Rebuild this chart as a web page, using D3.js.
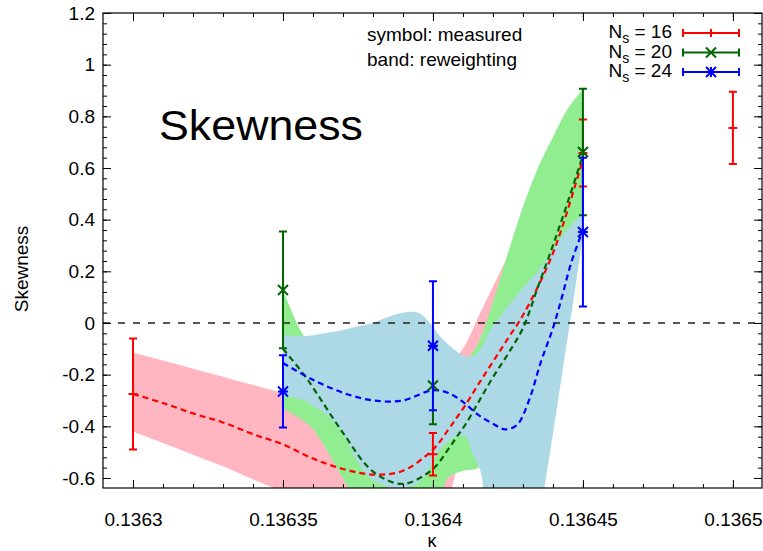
<!DOCTYPE html>
<html>
<head>
<meta charset="utf-8">
<script src="https://cdn.jsdelivr.net/npm/d3@7"></script>
<style>
body { margin: 0; background: #fff; }
text { font-family: "Liberation Sans", Arial, sans-serif; fill: #000; }
</style>
</head>
<body>
<div id="chart"></div>
<script>
// reweighting curves (kappa grid, band edges, central line) per lattice size
const kappaRed = [0.1363, 0.13631, 0.13632, 0.13633, 0.13634, 0.13635, 0.13636, 0.13637, 0.13638, 0.13639,
	0.1364, 0.136405, 0.136408, 0.136411, 0.136415, 0.13642, 0.136425, 0.13643, 0.13644, 0.13645];
const redUpper = [-0.115, -0.145, -0.177, -0.208, -0.24, -0.27, -0.29, -0.3, -0.3, -0.28,
	-0.22, -0.17, -0.13, -0.08, 0.02, 0.14, 0.26, 0.38, 0.6, 0.79];
const redLower = [-0.42, -0.465, -0.51, -0.555, -0.605, -0.653, -0.7, -0.74, -0.77, -0.78,
	-0.76, -0.68, -0.56, -0.45, -0.35, -0.22, -0.08, 0.05, 0.3, 0.53];
const redLine = [-0.275, -0.31, -0.35, -0.385, -0.43, -0.47, -0.525, -0.565, -0.587, -0.572,
	-0.49, -0.415, -0.365, -0.315, -0.24, -0.15, -0.06, 0.03, 0.27, 0.635];

const kappaGreen = [0.13635, 0.136357, 0.13636, 0.13637, 0.13638, 0.13639, 0.1364, 0.136405, 0.136408,
	0.136411, 0.136415, 0.13642, 0.136425, 0.13643, 0.136435, 0.13644, 0.136445, 0.13645];
const greenUpper = [0.128, -0.05, -0.08, -0.11, -0.12, -0.13, -0.13, -0.135, -0.14,
	-0.14, -0.08, 0.08, 0.27, 0.45, 0.6, 0.72, 0.83, 0.905];
const greenLower = [-0.33, -0.38, -0.41, -0.6, -0.8, -0.85, -0.75, -0.6, -0.58,
	-0.57, -0.56, -0.45, -0.3, -0.15, -0.02, 0.05, 0.2, 0.4];
const greenLine = [-0.1, -0.2, -0.25, -0.425, -0.575, -0.623, -0.565, -0.49, -0.44,
	-0.39, -0.31, -0.21, -0.12, -0.02, 0.14, 0.3, 0.47, 0.65];

const kappaBlueBand = [0.13635, 0.136357, 0.13636, 0.136364, 0.13637, 0.136374, 0.136379, 0.136384, 0.136388,
	0.136395, 0.136399, 0.136403, 0.136408, 0.136411, 0.136413, 0.136416, 0.136418, 0.136422,
	0.13643, 0.136435, 0.136437, 0.13644, 0.136443, 0.136447, 0.13645];
const blueUpper = [-0.047, -0.05, -0.047, -0.04, -0.027, -0.016, -0.003, 0.018, 0.035,
	0.04, 0.0, -0.06, -0.11, -0.13, -0.132, -0.1, -0.05, 0.02,
	0.135, 0.2, 0.23, 0.284, 0.335, 0.39, 0.43];
const blueLower = [-0.28, -0.3, -0.32, -0.35, -0.43, -0.52, -0.6, -0.63, -0.64,
	-0.62, -0.56, -0.48, -0.44, -0.44, -0.5, -0.58, -0.8, -0.95,
	-0.95, -0.8, -0.65, -0.43, -0.2, 0.1, 0.34];
const kappaBlueLine = [0.13635, 0.13636, 0.13637, 0.13638, 0.13639, 0.1364, 0.136405, 0.13641, 0.136415,
	0.13642, 0.136424, 0.136428, 0.136432, 0.136436, 0.13644, 0.136443, 0.136446, 0.13645];
const blueLine = [-0.155, -0.22, -0.27, -0.3, -0.3, -0.26, -0.27, -0.305, -0.355,
	-0.39, -0.412, -0.395, -0.3, -0.15, -0.02, 0.1, 0.23, 0.36];

// measured points with errors
const kappa16 = [0.1363, 0.1364, 0.13645, 0.1365];
const skew16 = [-0.275, -0.508, 0.658, 0.755];
const err16 = [0.215, 0.082, 0.13, 0.14];
const kappa20 = [0.13635, 0.1364, 0.13645];
const skew20 = [0.128, -0.242, 0.662];
const err20 = [0.226, 0.15, 0.245];
const kappa24 = [0.13635, 0.1364, 0.13645];
const skew24 = [-0.265, -0.088, 0.352];
const err24 = [0.14, 0.25, 0.288];

const legendSizes = ["16", "20", "24"];
const xTicks = [0.1363, 0.13635, 0.1364, 0.13645, 0.1365];
const xTickLabels = ["0.1363", "0.13635", "0.1364", "0.13645", "0.1365"];
const yTicks = [-0.6, -0.4, -0.2, 0, 0.2, 0.4, 0.6, 0.8, 1, 1.2];
const yTickLabels = ["-0.6", "-0.4", "-0.2", "0", "0.2", "0.4", "0.6", "0.8", "1", "1.2"];

const W = 763, H = 551;
const pLeft = 103, pRight = 762, pTop = 13, pBottom = 488;

let svg = d3.select('#chart').append('svg')
	.attr('width', W)
	.attr('height', H);

let x = d3.scaleLinear().domain([0.13629, 0.1365097]).range([pLeft, pRight]);
let y = d3.scaleLinear().domain([-0.6388, 1.2]).range([pBottom, pTop]);

svg.append('clipPath').attr('id', 'plotclip')
	.append('rect')
	.attr('x', pLeft).attr('y', pTop)
	.attr('width', pRight - pLeft).attr('height', pBottom - pTop);

let plot = svg.append('g').attr('clip-path', 'url(#plotclip)');
let curve = d3.curveCatmullRom.alpha(0.5);

let band = (k, lo, hi) => d3.area()
	.x((d, i) => x(k[i]))
	.y0((d, i) => y(lo[i]))
	.y1((d, i) => y(hi[i]))
	.curve(curve)(k);
let line = (k, v) => d3.line()
	.x((d, i) => x(k[i]))
	.y((d, i) => y(v[i]))
	.curve(curve)(k);

plot.append('path').attr('d', band(kappaRed, redLower, redUpper)).attr('fill', '#ffb6c1');
plot.append('path').attr('d', band(kappaGreen, greenLower, greenUpper)).attr('fill', '#90ee90');
plot.append('path').attr('d', band(kappaBlueBand, blueLower, blueUpper)).attr('fill', '#add8e6');

// zero line
plot.append('line')
	.attr('x1', pLeft).attr('x2', pRight)
	.attr('y1', y(0)).attr('y2', y(0))
	.attr('stroke', '#222')
	.attr('stroke-width', 1.5)
	.attr('stroke-dasharray', '7,8');

let dashed = [
	{ k: kappaRed, v: redLine, color: '#ff0000' },
	{ k: kappaGreen, v: greenLine, color: '#006400' },
	{ k: kappaBlueLine, v: blueLine, color: '#0000ff' }
];
plot.selectAll('.fit')
	.data(dashed)
	.enter()
	.append('path')
	.attr('class', 'fit')
	.attr('d', d => line(d.k, d.v))
	.attr('fill', 'none')
	.attr('stroke', d => d.color)
	.attr('stroke-width', 2.2)
	.attr('stroke-dasharray', '6,4');

// point symbols
let marker = (type, s) => {
	let p = 'M' + (-s) + ',0H' + s;
	if (type == 'cross') p = 'M' + (-s) + ',' + (-s) + 'L' + s + ',' + s + 'M' + (-s) + ',' + s + 'L' + s + ',' + (-s);
	if (type == 'star') p += 'M0,' + (-s) + 'V' + s + 'M' + (-s) + ',' + (-s) + 'L' + s + ',' + s + 'M' + (-s) + ',' + s + 'L' + s + ',' + (-s);
	return p;
};

let series = [
	{ k: kappa16, v: skew16, e: err16, color: '#ff0000', sym: 'plus' },
	{ k: kappa20, v: skew20, e: err20, color: '#006400', sym: 'cross' },
	{ k: kappa24, v: skew24, e: err24, color: '#0000ff', sym: 'star' }
];

series.forEach(s => {
	let g = plot.append('g')
		.attr('stroke', s.color)
		.attr('stroke-width', 2)
		.attr('fill', 'none');
	let pts = g.selectAll('g')
		.data(s.k.map((k, i) => ({ k: k, v: s.v[i], e: s.e[i] })))
		.enter()
		.append('g')
		.attr('transform', d => 'translate(' + x(d.k) + ',0)');
	pts.append('line')
		.attr('y1', d => y(d.v + d.e))
		.attr('y2', d => y(d.v - d.e));
	pts.append('path')
		.attr('d', d => 'M-4,' + y(d.v + d.e) + 'H4M-4,' + y(d.v - d.e) + 'H4');
	pts.append('path')
		.attr('transform', d => 'translate(0,' + y(d.v) + ')')
		.attr('d', marker(s.sym, s.sym == 'plus' ? 4.5 : 5));
});

// axes: ticks inward on all four sides
let xMinor = d3.range(-1, 22).map(i => 0.1363 + i * 0.00001)
	.filter(k => x(k) > pLeft && x(k) < pRight);
let yMinor = d3.range(-16, 31).map(i => i * 0.04)
	.filter(v => y(v) > pTop && y(v) < pBottom);

let axes = svg.append('g');
let addAxis = (axis, tx, ty, values, size, labels, pad) => {
	let g = axes.append('g')
		.attr('transform', 'translate(' + tx + ',' + ty + ')')
		.call(axis.tickValues(values)
			.tickSize(size)
			.tickSizeOuter(0)
			.tickPadding(pad || 0)
			.tickFormat(labels ? (d, i) => labels[i] : ''));
	g.select('.domain').remove();
	g.selectAll('line').attr('stroke', '#000');
	g.selectAll('text').attr('font-size', 19).attr('font-family', '"Liberation Sans", Arial, sans-serif');
	return g;
};
addAxis(d3.axisBottom(x), 0, pBottom, xTicks, -8, xTickLabels, 25);
addAxis(d3.axisBottom(x), 0, pBottom, xMinor, -4, null);
addAxis(d3.axisTop(x), 0, pTop, xTicks, -8, null);
addAxis(d3.axisTop(x), 0, pTop, xMinor, -4, null);
addAxis(d3.axisLeft(y), pLeft, 0, yTicks, -8, yTickLabels, 8);
addAxis(d3.axisLeft(y), pLeft, 0, yMinor, -4, null);
addAxis(d3.axisRight(y), pRight, 0, yTicks, -8, null);
addAxis(d3.axisRight(y), pRight, 0, yMinor, -4, null);

svg.append('rect')
	.attr('x', pLeft).attr('y', pTop)
	.attr('width', pRight - pLeft).attr('height', pBottom - pTop)
	.attr('fill', 'none')
	.attr('stroke', '#000')
	.attr('stroke-width', 1.2);

// axis titles
svg.append('text')
	.attr('transform', 'translate(28,269) rotate(-90)')
	.attr('text-anchor', 'middle')
	.attr('font-size', 19)
	.text('Skewness');
svg.append('text')
	.attr('x', 432).attr('y', 547)
	.attr('text-anchor', 'middle')
	.attr('font-size', 18)
	.attr('font-family', '"DejaVu Serif", serif')
	.text('κ');

svg.append('text')
	.attr('x', 159).attr('y', 140)
	.attr('font-size', 42)
	.attr('font-family', '"Open Sans", sans-serif')
	.attr('textLength', 204)
	.attr('lengthAdjust', 'spacingAndGlyphs')
	.text('Skewness');

svg.append('text').attr('x', 367).attr('y', 41).attr('font-size', 19).text('symbol: measured');
svg.append('text').attr('x', 367).attr('y', 66).attr('font-size', 19).text('band: reweighting');

// legend
let legend = svg.append('g')
	.selectAll('g')
	.data(series)
	.enter()
	.append('g')
	.attr('transform', (d, i) => 'translate(0,' + (33 + i * 19.5) + ')');

let lt = legend.append('text')
	.attr('x', 672).attr('y', 5)
	.attr('text-anchor', 'end')
	.attr('font-size', 19);
lt.append('tspan').text('N');
lt.append('tspan').attr('font-size', 14).attr('dy', 5).text('s');
lt.append('tspan').attr('dy', -5).text((d, i) => ' = ' + legendSizes[i]);

legend.append('path')
	.attr('d', 'M683,0H739M683,-4V4M739,-4V4')
	.attr('stroke', d => d.color)
	.attr('stroke-width', 2)
	.attr('fill', 'none');
legend.append('path')
	.attr('transform', 'translate(711,0)')
	.attr('d', d => d.sym == 'plus' ? 'M0,-4V4' : marker(d.sym, 5))
	.attr('stroke', d => d.color)
	.attr('stroke-width', 2)
	.attr('fill', 'none');
</script>
</body>
</html>
